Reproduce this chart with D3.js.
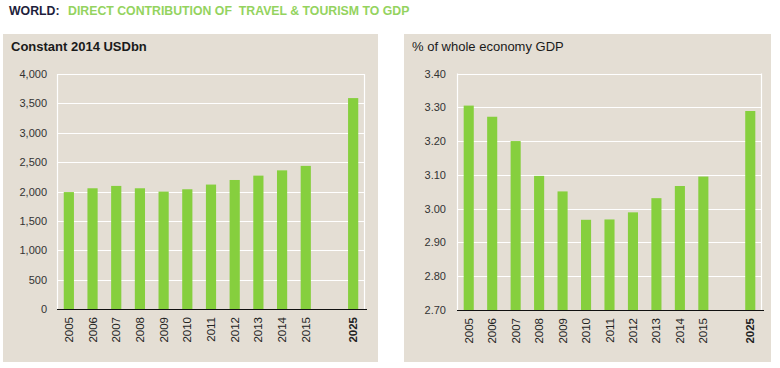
<!DOCTYPE html>
<html><head><meta charset="utf-8">
<script src="https://cdn.jsdelivr.net/npm/d3@7"></script>
<style>body{margin:0;background:#fff;}svg{display:block;font-family:Arial,"Liberation Sans",sans-serif;}</style>
</head><body>
<svg id="c" width="780" height="368"></svg>
<script>
const years = ["2005","2006","2007","2008","2009","2010","2011","2012","2013","2014","2015","","2025"];
const usdValues = [1990,2055,2095,2055,1998,2038,2118,2196,2270,2360,2436,null,3590];
const gdpShare = [3.305,3.272,3.20,3.097,3.051,2.967,2.968,2.989,3.031,3.067,3.095,null,3.289];
const usdTicks = [0,500,1000,1500,2000,2500,3000,3500,4000];
const gdpTicks = [2.70,2.80,2.90,3.00,3.10,3.20,3.30,3.40];

const svg = d3.select("#c");
const BAR = "#86cf3e", BG = "#e4ded4";

svg.append("text").attr("x",9).attr("y",15).style("font-size","12.3px").style("font-weight","bold")
  .attr("fill","#1e1e3c").text("WORLD:");
svg.append("text").attr("x",68).attr("y",15).style("font-size","12.3px").style("font-weight","bold").style("white-space","pre")
  .attr("fill","#94d35e").text("DIRECT CONTRIBUTION OF  TRAVEL & TOURISM TO GDP");

function panel(o){
  const g = svg.append("g");
  g.append("rect").attr("x",o.px).attr("y",34).attr("width",o.pw).attr("height",328).attr("fill",BG);
  g.append("text").attr("x",o.px+8).attr("y",51).attr("fill","#1a1a1a")
    .style("font-size","13px").style("font-weight",o.bold?"bold":"normal").text(o.title);
  const x = d3.scaleBand().domain(o.cats.map((d,i)=>i)).range([o.x0,o.x1]).paddingInner(0.57).paddingOuter(0.285);
  const y = d3.scaleLinear().domain(o.domain).range([o.y1,o.y0]);
  g.append("g").selectAll("line").data(o.ticks.slice(1)).join("line")
    .attr("x1",o.x0).attr("x2",o.x1).attr("y1",d=>Math.round(y(d))+0.5).attr("y2",d=>Math.round(y(d))+0.5)
    .attr("stroke","#ffffff").attr("stroke-width",1.2);
  g.append("line").attr("x1",o.x0+0.5).attr("x2",o.x0+0.5).attr("y1",o.y0).attr("y2",o.y1).attr("stroke","#fff").attr("stroke-width",1.2);
  g.append("line").attr("x1",o.x1-0.5).attr("x2",o.x1-0.5).attr("y1",o.y0).attr("y2",o.y1).attr("stroke","#fff").attr("stroke-width",1.2);
  g.append("g").selectAll("rect").data(o.vals.map((v,i)=>({v,i})).filter(d=>d.v!=null)).join("rect")
    .attr("x",d=>x(d.i)).attr("width",x.bandwidth()).attr("y",d=>y(d.v)).attr("height",d=>y(o.domain[0])-y(d.v))
    .attr("fill",BAR);
  const ya = g.append("g").attr("transform",`translate(${o.x0},0)`)
    .call(d3.axisLeft(y).tickValues(o.ticks).tickFormat(o.fmt).tickSize(0).tickPadding(o.tp));
  ya.select(".domain").remove();
  ya.selectAll("text").attr("fill","#333").style("font-size","11px").style("font-family","Arial, 'Liberation Sans', sans-serif");
  g.append("line").attr("x1",o.x0).attr("x2",o.x1+2).attr("y1",o.y1+0.5).attr("y2",o.y1+0.5).attr("stroke","#111").attr("stroke-width",1.2);
  g.append("g").selectAll("text").data(o.cats.map((c,i)=>({c,i})).filter(d=>d.c)).join("text")
    .attr("transform",d=>`translate(${x(d.i)+x.bandwidth()/2+4},${o.y1+8}) rotate(-90)`)
    .attr("text-anchor","end").attr("fill","#222").style("font-size","11.5px")
    .style("font-weight",d=>d.c==="2025"?"bold":"normal").text(d=>d.c);
}

panel({px:3,pw:375,title:"Constant 2014 USDbn",bold:true,cats:years,vals:usdValues,domain:[0,4000],ticks:usdTicks,
  fmt:d3.format(","),x0:57,x1:365,y0:74,y1:309,tp:10});
panel({px:404,pw:367,title:"% of whole economy GDP",bold:false,cats:years,vals:gdpShare,domain:[2.70,3.40],ticks:gdpTicks,
  fmt:d3.format(".2f"),x0:457,x1:762,y0:73.5,y1:310,tp:11});
</script>
</body></html>
